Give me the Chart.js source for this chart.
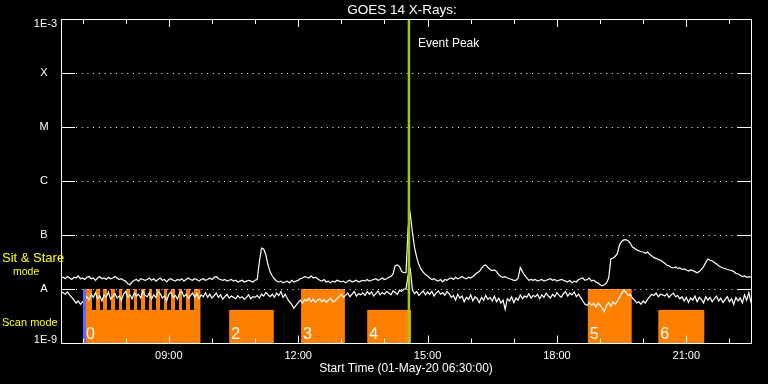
<!DOCTYPE html>
<html><head><meta charset="utf-8">
<script src="https://cdn.jsdelivr.net/npm/chart.js@4"></script>
<style>html,body{margin:0;padding:0;background:#000;}canvas{display:block;}</style>
</head><body>
<canvas id="c" width="768" height="384"></canvas>
<script>
// ---- data ----
const startClock = '06:30';
const endClock = '22:30';
const sampleStepMin = 3;          // minutes between samples
const fluxUnit = 1e-8;            // values below are in units of 1e-8 W/m^2

// long-wave channel (1-8 A)
const longFlux = [
1.6,1.65,1.55,1.7,1.6,1.5,1.65,1.6,1.75,1.55,1.6,1.5,1.65,1.7,1.55,1.6,1.45,1.6,1.7,1.55,
1.6,1.5,1.65,1.55,1.6,1.7,1.6,1.5,1.55,1.45,1.4,1.25,1.2,1.35,1.45,1.5,1.4,1.55,1.5,1.45,
1.5,1.6,1.45,1.55,1.4,1.5,1.6,1.45,1.5,1.35,1.5,1.55,1.45,1.4,1.5,1.45,1.55,1.4,1.5,1.6,
1.5,1.45,1.55,1.5,1.4,1.5,1.55,1.45,1.5,1.6,1.5,1.65,1.7,1.55,1.5,1.45,1.5,1.4,1.45,1.5,
1.4,1.45,1.35,1.4,1.45,1.35,1.4,1.45,1.4,1.35,1.45,1.5,3.2,5.7,5.5,4.3,2.8,2.06,1.74,1.53,
1.41,1.35,1.4,1.3,1.35,1.4,1.3,1.45,1.35,1.4,1.45,1.55,1.6,1.7,1.65,1.6,1.75,1.6,1.65,1.55,
1.45,1.4,1.5,1.35,1.4,1.3,1.4,1.35,1.45,1.4,1.35,1.4,1.3,1.4,1.45,1.35,1.4,1.45,1.35,1.4,
1.45,1.4,1.5,1.4,1.45,1.5,1.55,1.45,1.5,1.6,1.5,1.55,1.65,1.7,1.9,2.7,2.8,2.6,2.1,2.0,
2.0,14,24,11,5.8,3.8,2.8,2.3,2.05,1.85,1.75,1.6,1.5,1.55,1.45,1.4,1.5,1.35,1.5,1.45,
1.55,1.6,1.5,1.65,1.55,1.6,1.7,1.6,1.55,1.65,1.6,1.7,1.85,2.0,2.1,2.4,2.7,2.8,2.5,2.3,
2.2,2.25,2.1,1.85,1.7,1.65,1.7,1.6,1.55,1.5,1.45,1.45,1.6,2.5,2.1,1.8,1.6,1.45,1.5,1.45,
1.5,1.4,1.45,1.5,1.4,1.45,1.5,1.55,1.45,1.5,1.4,1.45,1.5,1.45,1.4,1.35,1.45,1.3,1.4,1.35,
1.5,1.55,1.6,1.45,1.5,1.6,1.4,1.45,1.35,1.3,1.2,1.15,1.2,1.3,1.6,3.6,3.75,4.0,4.5,6.5,
7.6,8.1,8.2,7.8,7.1,6.0,5.7,5.3,5.1,4.9,4.85,4.6,4.85,4.4,4.1,3.8,3.7,3.5,3.45,3.2,
3.0,2.75,2.7,2.5,2.45,2.55,2.4,2.45,2.3,2.35,2.25,2.15,2.25,2.2,2.1,2.0,2.1,2.3,2.6,3.1,
3.6,3.4,3.3,3.1,2.9,2.7,2.55,2.45,2.4,2.3,2.25,2.2,2.1,1.95,1.9,1.8,1.7,1.75,1.65,1.7,1.65
];
// short-wave channel (0.5-4 A)
const shortFlux = [
0.9,0.85,0.8,0.88,0.78,0.7,0.62,0.55,0.6,0.52,0.58,0.65,0.72,0.62,0.8,0.7,0.85,0.66,0.75,0.6,
0.78,0.7,0.88,0.65,0.72,0.82,0.68,0.75,0.62,0.8,0.9,0.7,0.78,0.66,0.85,0.74,0.8,0.68,0.92,0.76,
0.72,0.85,0.65,0.78,0.7,0.9,0.82,0.68,0.75,0.6,0.8,0.88,0.7,0.76,0.65,0.84,0.9,0.72,0.8,0.68,
0.75,0.85,0.7,0.82,0.66,0.78,0.72,0.86,0.7,0.8,0.68,0.75,0.84,0.7,0.78,0.65,0.72,0.8,0.68,0.74,
0.7,0.66,0.75,0.68,0.72,0.64,0.7,0.78,0.66,0.72,0.7,0.76,0.68,0.8,0.74,0.86,0.78,0.72,0.8,0.7,
0.84,0.75,0.9,0.7,0.8,0.66,0.58,0.52,0.44,0.5,0.56,0.62,0.55,0.64,0.6,0.68,0.58,0.65,0.56,0.62,
0.66,0.58,0.64,0.56,0.62,0.68,0.58,0.6,0.66,0.72,0.8,0.7,0.76,0.84,0.72,0.8,0.9,0.74,0.82,0.78,
0.85,0.76,0.9,0.8,0.88,0.74,0.82,0.92,0.78,0.86,0.8,0.9,0.84,0.78,0.92,0.86,0.8,0.95,0.9,1.0,
1.0,1.8,2.3,0.95,0.82,0.9,0.76,0.85,0.92,0.78,0.88,0.8,0.9,0.74,0.84,0.92,0.8,0.86,0.76,0.9,
0.82,0.7,0.76,0.62,0.8,0.68,0.74,0.58,0.7,0.64,0.78,0.6,0.72,0.66,0.56,0.7,0.62,0.76,0.64,0.7,
0.6,0.74,0.58,0.68,0.55,0.62,0.42,0.66,0.6,0.72,0.56,0.68,0.62,0.78,0.66,0.74,0.7,0.82,0.68,0.76,
0.72,0.8,0.66,0.78,0.7,0.84,0.74,0.68,0.8,0.72,0.86,0.76,0.7,0.82,0.9,0.74,0.84,0.78,0.88,0.72,
0.8,0.7,0.6,0.52,0.5,0.56,0.5,0.54,0.46,0.55,0.5,0.44,0.38,0.5,0.56,0.48,0.58,0.52,0.6,0.7,
0.82,0.95,0.88,0.76,0.8,0.68,0.62,0.55,0.58,0.52,0.6,0.55,0.64,0.72,0.8,0.76,0.84,0.72,0.8,0.78,
0.74,0.82,0.7,0.78,0.84,0.72,0.76,0.66,0.72,0.6,0.7,0.56,0.68,0.62,0.74,0.58,0.7,0.64,0.55,0.72,
0.62,0.7,0.58,0.66,0.74,0.6,0.68,0.56,0.64,0.72,0.58,0.66,0.52,0.7,0.6,0.68,0.55,0.78,0.62,0.86,0.56
];

const yLevels = [1e-3, 1e-4, 1e-5, 1e-6, 1e-7, 1e-8, 1e-9];
const yLabels = ['1E-3', 'X', 'M', 'C', 'B', 'A', '1E-9'];
const xTickClocks = ['09:00', '12:00', '15:00', '18:00', '21:00'];

// observing-mode blocks
const blockLabels = ['0', '2', '3', '4', '5', '6'];
const blockStarts = ['07:02', '10:24', '12:04', '13:36', '18:43', '20:21'];
const blockEnds   = ['09:44', '11:26', '13:05', '14:37', '19:44', '21:25'];
const blockModes  = ['mixed', 'scan', 'stare', 'scan', 'stare', 'scan'];
const block0ScanGapStarts = ['07:13','07:24','07:34','07:45','07:55','08:06','08:16','08:27','08:37','08:48','08:58','09:09','09:19','09:30'];
const block0ScanGapMin = 5;
const stareTopFlux = 1e-8;
const scanTopFlux = 4.1e-9;
const eventPeakClock = '14:34';
const firstScanClock = '07:02';

// ---- helpers ----
function clockMin(s){ const [h,m] = s.split(':').map(Number); return h*60+m; }
const t0 = clockMin(startClock);
function rel(s){ return clockMin(s) - t0; }

const longData = longFlux.map((v,i)=>({x:i*sampleStepMin, y:v*fluxUnit}));
const shortData = shortFlux.map((v,i)=>({x:i*sampleStepMin, y:v*fluxUnit}));

const ORANGE = '#ff8000';
const FONT = '"Liberation Sans", Arial, sans-serif';

const overlay = {
  id: 'overlay',
  beforeDatasetsDraw(chart){
    const {ctx, chartArea:a, scales:{x, y}} = chart;
    ctx.save();
    ctx.fillStyle = ORANGE;
    const yStare = y.getPixelForValue(stareTopFlux);
    const yScan = y.getPixelForValue(scanTopFlux);
    blockLabels.forEach((lab,k)=>{
      const x0 = x.getPixelForValue(rel(blockStarts[k]));
      const x1 = x.getPixelForValue(rel(blockEnds[k]));
      const top = blockModes[k]==='stare' ? yStare : yScan;
      ctx.fillRect(x0, top, x1-x0, a.bottom-top);
      if (blockModes[k]==='mixed'){
        let cur = x0;
        block0ScanGapStarts.forEach(g=>{
          const gs = x.getPixelForValue(rel(g));
          ctx.fillRect(Math.round(cur), yStare, Math.round(gs)-Math.round(cur), yScan-yStare);
          cur = x.getPixelForValue(rel(g)+block0ScanGapMin);
        });
        ctx.fillRect(Math.round(cur), yStare, x1-Math.round(cur), yScan-yStare);
      }
    });
    ctx.strokeStyle = '#fff';
    ctx.lineWidth = 1;
    ctx.setLineDash([1, 4.7]);
    yLevels.slice(1, -1).forEach(v=>{
      const py = Math.round(y.getPixelForValue(v)) + 0.5;
      ctx.beginPath(); ctx.moveTo(a.left+15, py); ctx.lineTo(a.right-15, py); ctx.stroke();
    });
    ctx.setLineDash([]);
    ctx.restore();
  },
  afterDatasetsDraw(chart){
    const {ctx, chartArea:a, scales:{x, y}} = chart;
    ctx.save();
    const bx = x.getPixelForValue(rel(firstScanClock));
    ctx.fillStyle = '#6464ff';
    ctx.fillRect(bx-1, y.getPixelForValue(stareTopFlux), 3, a.bottom - y.getPixelForValue(stareTopFlux));
    const ex = x.getPixelForValue(rel(eventPeakClock));
    ctx.fillStyle = '#9cd000';
    ctx.fillRect(ex-1.2, a.top, 2.5, a.bottom-a.top);
    ctx.fillStyle = '#fff';
    ctx.font = '16px ' + FONT;
    ctx.textAlign = 'left'; ctx.textBaseline = 'alphabetic';
    blockLabels.forEach((lab,k)=>{
      ctx.fillText(lab, x.getPixelForValue(rel(blockStarts[k])) + 2, a.bottom - 4);
    });
    ctx.strokeStyle = '#fff'; ctx.lineWidth = 1;
    ctx.strokeRect(a.left+0.5, a.top+0.5, a.right-a.left, a.bottom-a.top);
    ctx.beginPath();
    const majors = xTickClocks.map(rel);
    for (let m = 30; m < rel(endClock); m += 60){
      const px = Math.round(x.getPixelForValue(m)) + 0.5;
      const len = majors.includes(m) ? 8 : 5;
      ctx.moveTo(px, a.top); ctx.lineTo(px, a.top+len);
      ctx.moveTo(px, a.bottom+0.5); ctx.lineTo(px, a.bottom+0.5-len);
    }
    yLevels.slice(1, -1).forEach(v=>{
      const py = Math.round(y.getPixelForValue(v)) + 0.5;
      ctx.moveTo(a.left, py); ctx.lineTo(a.left+14, py);
      ctx.moveTo(a.right+1, py); ctx.lineTo(a.right-14, py);
    });
    ctx.stroke();
    ctx.font = '11px ' + FONT;
    ctx.textBaseline = 'middle';
    yLevels.forEach((v,k)=>{
      let py = y.getPixelForValue(v);
      if (k === 0) { py += 5; }
      if (k === yLevels.length-1) { py -= 3; }
      if (yLabels[k].length > 1){ ctx.textAlign = 'right'; ctx.fillText(yLabels[k], 57, py); }
      else { ctx.textAlign = 'center'; ctx.fillText(yLabels[k], 44, py); }
    });
    ctx.textAlign = 'center';
    xTickClocks.forEach(c=>{ ctx.fillText(c, x.getPixelForValue(rel(c)), 356); });
    ctx.font = '12px ' + FONT;
    ctx.fillText('Start Time (01-May-20 06:30:00)', (a.left+a.right)/2, 369);
    ctx.font = '13.5px ' + FONT;
    ctx.fillText('GOES 14 X-Rays:', (a.left+a.right)/2 - 4, 10);
    ctx.font = '12px ' + FONT;
    ctx.textAlign = 'left';
    ctx.fillText('Event Peak', ex + 9, 44);
    ctx.fillStyle = '#ffff00';
    ctx.font = '13px ' + FONT;
    ctx.fillText('Sit & Stare', 2, 258);
    ctx.font = '10.5px ' + FONT;
    ctx.fillText('mode', 13, 272);
    ctx.font = '11px ' + FONT;
    ctx.fillText('Scan mode', 2, 323);
    ctx.restore();
  }
};

new Chart(document.getElementById('c'), {
  type: 'line',
  data: {
    datasets: [
      {label:'1-8 A', data: longData, borderColor:'#fff', borderWidth:1.2, pointRadius:0, tension:0},
      {label:'0.5-4 A', data: shortData, borderColor:'#fff', borderWidth:1.2, pointRadius:0, tension:0}
    ]
  },
  options: {
    responsive: false,
    animation: false,
    devicePixelRatio: 1,
    layout: {padding: {left: 61, right: 17, top: 19, bottom: 41}},
    plugins: {legend: {display: false}, tooltip: {enabled: false}},
    scales: {
      x: {type: 'linear', min: 0, max: rel(endClock), display: false},
      y: {type: 'logarithmic', min: 1e-9, max: 1e-3, display: false}
    }
  },
  plugins: [overlay]
});
</script>
</body></html>
